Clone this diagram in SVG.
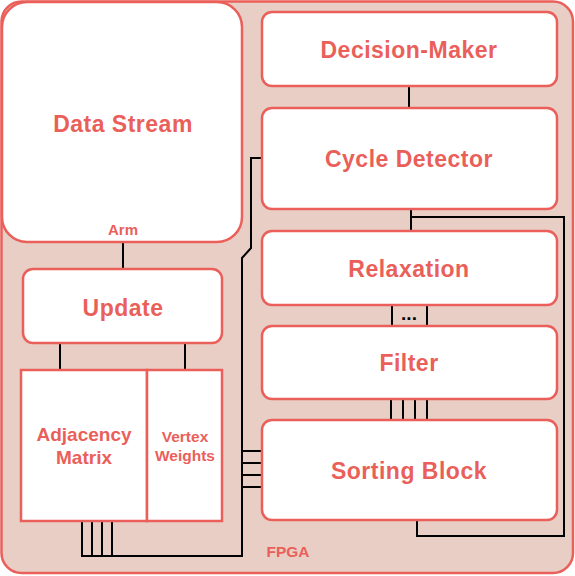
<svg xmlns="http://www.w3.org/2000/svg" width="575" height="576" viewBox="0 0 575 576">
<style>
.box{fill:#ffffff;stroke:#EA5F5A;stroke-width:2.5}
.w{stroke:#000;stroke-width:2;fill:none}
text{font-family:"Liberation Sans",Arial,sans-serif;font-weight:bold;fill:#EA5F5A;text-anchor:middle}
.big{font-size:23px;letter-spacing:0.5px}
</style>
<rect id="fpga" x="1.5" y="1.5" width="571.5" height="571.5" rx="20" fill="#E9CEC6" stroke="#EA5F5A" stroke-width="2.5"/>
<g id="connectors">
<path class="w" d="M123 242V269M60 343V370M185 343V370M409 86V108M411 209V231M411 217H564V536H417V520"/>
<path class="w" d="M392 305V326M427 305V326"/>
<path class="w" d="M391 399V420M403 399V420M415 399V420M427 399V420"/>
<path class="w" d="M262 158H251V248L242 258V556H82V521M92 521V556M102 521V556M112 521V556"/>
<path class="w" d="M242 451H262M242 463H262M242 475H262M242 487H262"/>
</g>
<g id="data-stream"><rect class="box" x="2" y="2" width="240" height="240" rx="25"/><text class="big" x="123" y="132">Data Stream</text><text x="123" y="235" font-size="15">Arm</text></g>
<g id="decision-maker"><rect class="box" x="262" y="12" width="295" height="74" rx="10"/><text class="big" x="409" y="58">Decision-Maker</text></g>
<g id="cycle-detector"><rect class="box" x="262" y="108" width="295" height="101" rx="10"/><text class="big" x="409" y="167">Cycle Detector</text></g>
<g id="relaxation"><rect class="box" x="262" y="231" width="295" height="74" rx="10"/><text class="big" x="409" y="277">Relaxation</text></g>
<text x="409" y="320" font-size="19" style="fill:#000">...</text>
<g id="filter"><rect class="box" x="262" y="326" width="295" height="73" rx="10"/><text class="big" x="409" y="371">Filter</text></g>
<g id="sorting-block"><rect class="box" x="262" y="420" width="295" height="100" rx="10"/><text class="big" x="409" y="479">Sorting Block</text></g>
<g id="update"><rect class="box" x="23" y="269" width="199" height="74" rx="10"/><text class="big" x="123" y="316">Update</text></g>
<g id="adjacency-matrix"><rect class="box" x="21" y="370" width="126" height="151" rx="0"/><text x="84" y="441" font-size="19">Adjacency</text><text x="84" y="464" font-size="19">Matrix</text></g>
<g id="vertex-weights"><rect class="box" x="147" y="370" width="75" height="151" rx="0"/><text x="185" y="442" font-size="15.5">Vertex</text><text x="185" y="461" font-size="15.5">Weights</text></g>
<text x="288" y="557" font-size="15.5">FPGA</text>
</svg>
